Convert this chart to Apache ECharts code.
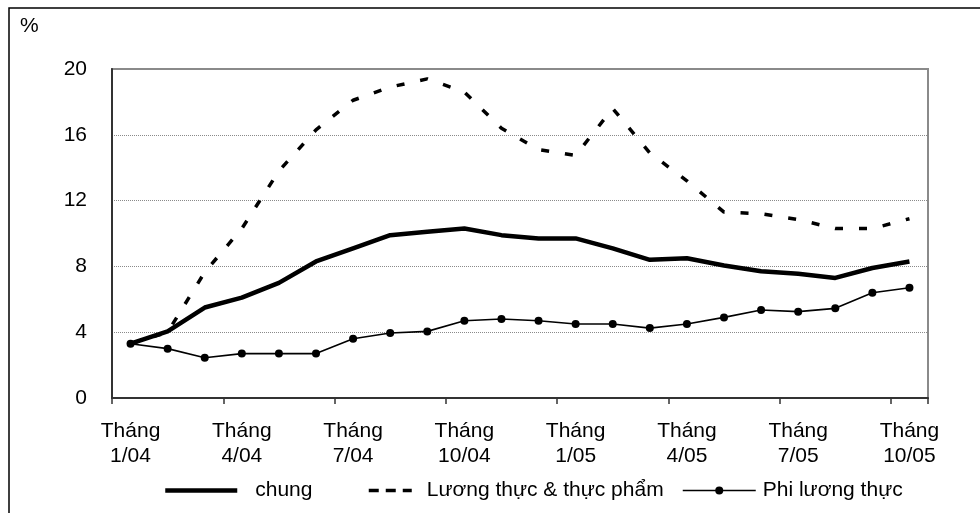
<!DOCTYPE html>
<html>
<head>
<meta charset="utf-8">
<script src="https://cdn.jsdelivr.net/npm/echarts@6/dist/echarts.min.js"></script>
<style>
html,body{margin:0;padding:0;background:#fff;}
#chart{width:980px;height:513px;}
</style>
</head>
<body>
<div id="chart"></div>
<script>
var months = ['1/04','2/04','3/04','4/04','5/04','6/04','7/04','8/04','9/04','10/04','11/04','12/04',
              '1/05','2/05','3/05','4/05','5/05','6/05','7/05','8/05','9/05','10/05'];
var chung = [3.3, 4.05, 5.5, 6.1, 7.0, 8.3, 9.1, 9.9, 10.1, 10.3, 9.9, 9.7, 9.7, 9.1, 8.4, 8.5, 8.05, 7.7, 7.55, 7.3, 7.9, 8.3];
var luongThuc = [3.3, 4.0, 7.65, 10.3, 13.8, 16.3, 18.1, 18.9, 19.4, 18.6, 16.4, 15.1, 14.75, 17.6, 14.9, 13.2, 11.3, 11.2, 10.85, 10.3, 10.3, 10.9];
var phiLuongThuc = [3.3, 3.0, 2.45, 2.7, 2.7, 2.7, 3.6, 3.95, 4.05, 4.7, 4.8, 4.7, 4.5, 4.5, 4.25, 4.5, 4.9, 5.35, 5.25, 5.45, 6.4, 6.7];
var seriesNames = ['chung', 'Lương thực & thực phẩm', 'Phi lương thực'];
var yTicks = [0, 4, 8, 12, 16, 20];
var unitLabel = '%';
var monthPrefix = 'Tháng';

var FONT = "'Liberation Sans', Arial, sans-serif";
var FS = 21;
var chart = echarts.init(document.getElementById('chart'), null, {renderer: 'canvas'});

function legendBase(name, left, width, gap) {
  return {
    data: [name],
    left: left,
    top: 480,
    padding: 0,
    itemWidth: width,
    itemHeight: 10,
    selectedMode: false,
    textStyle: {fontFamily: FONT, fontSize: FS, color: '#000', padding: [0, 0, 0, gap]}
  };
}

var l1 = legendBase(seriesNames[0], 163, 72, 13);
l1.itemStyle = {opacity: 0};
l1.lineStyle = {width: 4.5, color: '#000'};
var l2 = legendBase(seriesNames[1], 367, 43, 10);
l2.itemStyle = {opacity: 0};
l2.lineStyle = {width: 3.5, color: '#000', type: [10, 7]};
var l3 = legendBase(seriesNames[2], 682, 73, 2);
l3.lineStyle = {width: 1.5, color: '#000'};

var option = {
  animation: false,
  backgroundColor: '#fff',
  textStyle: {fontFamily: FONT},
  grid: {left: 112, right: 52, top: 69, bottom: 115, show: true, borderColor: '#8a8a8a', borderWidth: 2},
  legend: [l1, l2, l3],
  graphic: [
    {type: 'polyline', shape: {points: [[9, 600], [9, 8], [1000, 8]]}, style: {stroke: '#000', lineWidth: 1.5, fill: null}, silent: true},
    {type: 'text', left: 20, top: 16, style: {text: unitLabel, font: FS + "px " + FONT, fill: '#000'}}
  ],
  xAxis: {
    type: 'category',
    data: months,
    boundaryGap: true,
    axisLine: {show: true, lineStyle: {color: '#333', width: 2}},
    axisTick: {show: true, interval: 2, length: 6, lineStyle: {color: '#333', width: 1.5}},
    axisLabel: {
      interval: 2,
      margin: 20,
      color: '#000',
      fontFamily: FONT,
      fontSize: FS,
      lineHeight: 25.5,
      formatter: function (v) { return monthPrefix + '\n' + v; }
    },
    splitLine: {show: false}
  },
  yAxis: {
    type: 'value',
    min: yTicks[0],
    max: yTicks[yTicks.length - 1],
    interval: yTicks[1] - yTicks[0],
    axisLine: {show: true, lineStyle: {color: '#333', width: 2}},
    axisTick: {show: false},
    axisLabel: {margin: 25, color: '#000', fontFamily: FONT, fontSize: FS},
    splitLine: {show: true, lineStyle: {color: '#8a8a8a', width: 1, type: [1, 1]}}
  },
  series: [
    {
      name: seriesNames[0], type: 'line', data: chung,
      symbol: 'none', smooth: false,
      lineStyle: {color: '#000', width: 4.5, cap: 'butt', join: 'round'},
      itemStyle: {color: '#000'}, z: 3
    },
    {
      name: seriesNames[1], type: 'line', data: luongThuc,
      symbol: 'none', smooth: false,
      lineStyle: {color: '#000', width: 3.5, type: [8, 16], cap: 'butt'},
      itemStyle: {color: '#000'}, z: 2
    },
    {
      name: seriesNames[2], type: 'line', data: phiLuongThuc,
      symbol: 'circle', symbolSize: 8, showSymbol: true,
      lineStyle: {color: '#000', width: 1.6},
      itemStyle: {color: '#000', borderWidth: 0}, z: 4
    }
  ]
};
chart.setOption(option);
</script>
</body>
</html>
